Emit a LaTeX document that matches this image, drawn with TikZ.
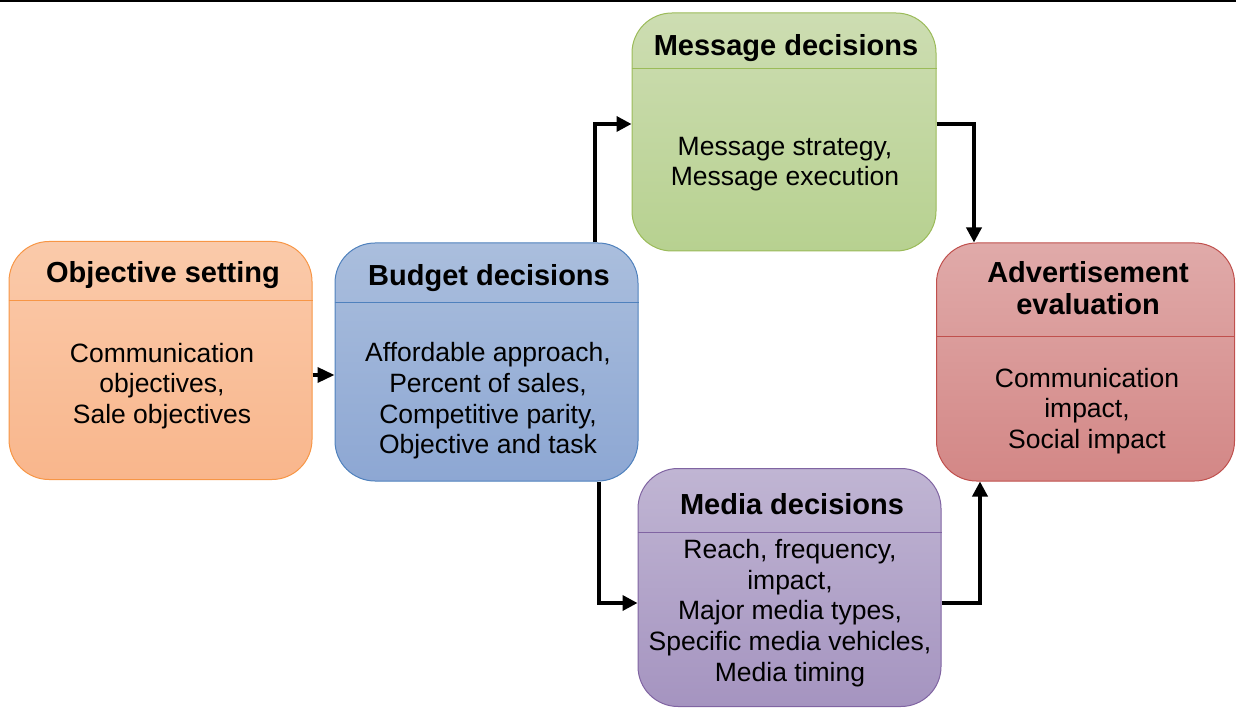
\documentclass[tikz,border=0pt]{standalone}
\usepackage{fontspec}
\setmainfont{Liberation Sans}
\usetikzlibrary{arrows.meta}
\definecolor{oFillT}{HTML}{FACAAA}
\definecolor{oFillB}{HTML}{F9B68C}
\definecolor{oLine}{HTML}{F79646}
\definecolor{bFillT}{HTML}{AABEDD}
\definecolor{bFillB}{HTML}{8DA7D3}
\definecolor{bLine}{HTML}{4F81BD}
\definecolor{mFillT}{HTML}{CDDDB2}
\definecolor{mFillB}{HTML}{B7D190}
\definecolor{mLine}{HTML}{9BBB59}
\definecolor{rFillT}{HTML}{E0AAA9}
\definecolor{rFillB}{HTML}{D38786}
\definecolor{rLine}{HTML}{C0504D}
\definecolor{pFillT}{HTML}{C0B5D3}
\definecolor{pFillB}{HTML}{A594C0}
\definecolor{pLine}{HTML}{8064A2}
\tikzset{
  box/.style={rectangle, rounded corners=40pt, line width=1pt, inner sep=0pt, minimum width=303pt, minimum height=238pt},
  ttl/.style={font=\fontsize{29}{32}\selectfont\bfseries, align=center, inner sep=0pt},
  bdy/.style={font=\fontsize{26.5}{30.7}\selectfont, align=center, inner sep=0pt},
  arr/.style={line width=3.5pt, -{Triangle[length=15pt,width=15pt]}},
  arrs/.style={line width=3.5pt, -{Triangle[length=17pt,width=15pt]}}
}
\begin{document}
\begin{tikzpicture}[x=1pt,y=-1pt]
\useasboundingbox (0,0) rectangle (1236,708);
\draw[line width=2pt] (0,1) -- (1236,1);
% boxes
\node[box, draw=oLine, top color=oFillT, bottom color=oFillB] (obj) at (160.5,360.5) {};
\node[box, draw=bLine, top color=bFillT, bottom color=bFillB] (bud) at (486.5,362) {};
\node[box, draw=mLine, top color=mFillT, bottom color=mFillB, minimum width=304pt] (msg) at (784,132) {};
\node[box, draw=pLine, top color=pFillT, bottom color=pFillB] (med) at (789.5,587.5) {};
\node[box, draw=rLine, top color=rFillT, bottom color=rFillB, minimum width=298pt] (adv) at (1085.5,362) {};
% helper coordinates
\coordinate (y301) at (0,301);
\coordinate (y303) at (0,303);
\coordinate (y69) at (0,69);
\coordinate (y532) at (0,532);
\coordinate (y337) at (0,337);
\draw[oLine, line width=1pt] (obj.west |- y301) -- (obj.east |- y301);
\draw[bLine, line width=1pt] (bud.west |- y303) -- (bud.east |- y303);
\draw[mLine, line width=1pt] (msg.west |- y69) -- (msg.east |- y69);
\draw[pLine, line width=1pt] (med.west |- y532) -- (med.east |- y532);
\draw[rLine, line width=1pt] (adv.west |- y337) -- (adv.east |- y337);
% texts
\node[ttl] (objT) at (163,275) {Objective setting};
\node[bdy] (objB) at (162,386) {Communication\\objectives,\\Sale objectives};
\node[ttl] (budT) at (489,278) {Budget decisions};
\node[bdy] (budB) at (488,401) {Affordable approach,\\Percent of sales,\\Competitive parity,\\Objective and task};
\node[ttl] (msgT) at (786,48) {Message decisions};
\node[bdy] (msgB) at (785,164) {Message strategy,\\Message execution};
\node[ttl] (medT) at (792,504) {Media decisions};
\node[bdy] (medB) at (790,613) {Reach, frequency,\\impact,\\Major media types,\\Specific media vehicles,\\Media timing};
\node[ttl] (advT) at (1088,288) {Advertisement\\evaluation};
\node[bdy] (advB) at (1087,411) {Communication\\impact,\\Social impact};
% connector coordinates
\coordinate (y375) at (0,375);
\coordinate (x595) at (595,0);
\coordinate (y124) at (0,124);
\coordinate (x974) at (974,0);
\coordinate (x599) at (599,0);
\coordinate (y603) at (0,603);
\coordinate (x980) at (980,0);
% connectors
\draw[arrs] (obj.east |- y375) -- (bud.west |- y375);
\draw[arr] (bud.north -| x595) |- (msg.west |- y124);
\draw[arr] (msg.east |- y124) -| (adv.north -| x974);
\draw[arr] (bud.south -| x599) |- (med.west |- y603);
\draw[arr] (med.east |- y603) -| (adv.south -| x980);
\end{tikzpicture}
\end{document}
